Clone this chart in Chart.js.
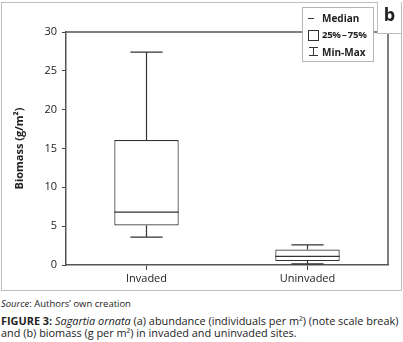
<!DOCTYPE html>
<html>
<head>
<meta charset="utf-8">
<script src="https://cdn.jsdelivr.net/npm/chart.js@4/dist/chart.umd.min.js"></script>
<style>
  html, body { margin: 0; padding: 0; background: #fff; }
  body { width: 403px; height: 342px; position: relative; overflow: hidden; font-family: "Open Sans", sans-serif; }
  #frame { position: absolute; left: 1px; top: 2px; width: 399px; height: 287px; border: 1px solid #bdbdbd; }
  #wrap { position: absolute; left: 0; top: 0; width: 403px; height: 292px; }
  #legend { position: absolute; left: 302px; top: 7px; width: 70px; height: 53px; border: 1px solid #b5b5b5; background: #fff; font-weight: bold; font-size: 10px; color: #222; }
  .li { position: absolute; left: 19px; line-height: 12px; white-space: nowrap; }
  .sym { position: absolute; }
  #blabel { position: absolute; left: 377px; top: 2px; width: 23px; height: 31px; border-left: 1px solid #bdbdbd; border-bottom: 1px solid #bdbdbd; background: #fff; font-weight: bold; font-size: 18px; line-height: 24px; text-align: center; color: #222; }
  .cap { position: absolute; left: 1px; color: #222; font-size: 10px; line-height: 14px; height: 14px; white-space: nowrap; }
</style>
</head>
<body>
<div id="frame"></div>
<div id="wrap"><canvas id="c" width="403" height="292"></canvas></div>
<div id="legend">
  <div class="sym" style="left:5px;top:10px;width:6px;height:1px;background:#333;"></div>
  <div class="li" style="top:4px;">Median</div>
  <div class="sym" style="left:5px;top:22px;width:9px;height:9px;border:1px solid #333;"></div>
  <div class="li" style="top:21px;font-size:9.6px;letter-spacing:-0.3px;">25%&thinsp;–&thinsp;75%</div>
  <div class="sym" style="left:6px;top:39px;width:9px;height:1px;background:#333;"></div>
  <div class="sym" style="left:10px;top:39px;width:1px;height:9px;background:#333;"></div>
  <div class="sym" style="left:6px;top:47px;width:9px;height:1px;background:#333;"></div>
  <div class="li" style="top:38px;">Min-Max</div>
</div>
<div id="blabel">b</div>
<div class="cap" id="src" style="top:297px;"><i>Source</i>: Authors’ own creation</div>
<div class="cap" id="fig1" style="top:314px;"><b>FIGURE 3:</b> <i>Sagartia ornata</i> (a) abundance (individuals per m²) (note scale break)</div>
<div class="cap" id="fig2" style="top:326px;">and (b) biomass (g per m²) in invaded and uninvaded sites.</div>
<script>
const categories = ["Invaded", "Uninvaded"];
const minValues = [3.6, 0.15];
const q1Values = [5.1, 0.5];
const medianValues = [6.8, 1.1];
const q3Values = [16.1, 2.0];
const maxValues = [27.4, 2.6];
const yTicks = [0, 5, 10, 15, 20, 25, 30];

(function fit() {
  const s = document.getElementById('src');
  const f1 = document.getElementById('fig1');
  const f2 = document.getElementById('fig2');
  const ws = s.getBoundingClientRect().width;
  s.style.fontSize = (10 * 130 / ws) + 'px';
  const w1 = f1.getBoundingClientRect().width;
  const fs = 10 * 398 / w1;
  f1.style.fontSize = fs + 'px';
  f2.style.fontSize = fs + 'px';
})();

const boxData = categories.map((c, i) => [q1Values[i], q3Values[i]]);

const boxPlugin = {
  id: 'boxExtras',
  afterDatasetsDraw(chart) {
    const ctx = chart.ctx;
    const xs = chart.scales.x, ys = chart.scales.y;
    const meta = chart.getDatasetMeta(0);
    ctx.save();
    ctx.strokeStyle = '#333';
    ctx.lineWidth = 1.2;
    categories.forEach((c, i) => {
      const bar = meta.data[i];
      const half = bar.width / 2;
      const cx = xs.getPixelForValue(i);
      const capHalf = half * 0.5;
      const yMed = ys.getPixelForValue(medianValues[i]);
      const yQ1 = ys.getPixelForValue(q1Values[i]);
      const yQ3 = ys.getPixelForValue(q3Values[i]);
      const yMin = ys.getPixelForValue(minValues[i]);
      const yMax = ys.getPixelForValue(maxValues[i]);
      ctx.beginPath();
      ctx.moveTo(cx - half, yMed); ctx.lineTo(cx + half, yMed);
      ctx.moveTo(cx, yQ3); ctx.lineTo(cx, yMax);
      ctx.moveTo(cx - capHalf, yMax); ctx.lineTo(cx + capHalf, yMax);
      ctx.moveTo(cx, yQ1); ctx.lineTo(cx, yMin);
      ctx.moveTo(cx - capHalf, yMin); ctx.lineTo(cx + capHalf, yMin);
      ctx.stroke();
    });
    const a = chart.chartArea;
    ctx.strokeStyle = '#555';
    ctx.lineWidth = 1.5;
    ctx.beginPath();
    ctx.moveTo(a.left, a.top); ctx.lineTo(a.right, a.top); ctx.lineTo(a.right, a.bottom);
    ctx.stroke();
    ctx.restore();
  }
};

new Chart(document.getElementById('c'), {
  type: 'bar',
  data: {
    labels: categories,
    datasets: [{
      data: boxData,
      backgroundColor: '#ffffff',
      borderColor: '#333',
      borderWidth: 1.2,
      borderSkipped: false,
      barPercentage: 0.4,
      categoryPercentage: 1.0
    }]
  },
  options: {
    responsive: false,
    animation: false,
    events: [],
    layout: { padding: { left: 0, top: 32, right: 15, bottom: 0 } },
    plugins: { legend: { display: false }, tooltip: { enabled: false } },
    scales: {
      x: {
        offset: true,
        grid: { display: true, drawOnChartArea: false, offset: false, tickLength: 5, color: '#444', tickWidth: 1 },
        border: { display: true, color: '#555', width: 1.5 },
        ticks: { color: '#222', font: { family: 'Open Sans', size: 11 }, padding: 2 },
        afterFit(s) { s.height = 27; }
      },
      y: {
        min: 0, max: 30,
        afterBuildTicks(s) { s.ticks = yTicks.map(v => ({ value: v })); },
        grid: { display: true, drawOnChartArea: false, tickLength: 4, color: '#444', tickWidth: 1 },
        border: { display: true, color: '#555', width: 1.5 },
        ticks: { color: '#222', font: { family: 'Open Sans', size: 11 }, padding: 5 },
        title: { display: true, text: 'Biomass (g/m²)', color: '#222', font: { family: 'Open Sans', size: 11, weight: 'bold' }, padding: { top: 13, bottom: 0 } },
        afterFit(s) { s.width = 66; }
      }
    }
  },
  plugins: [boxPlugin]
});
</script>
</body>
</html>
